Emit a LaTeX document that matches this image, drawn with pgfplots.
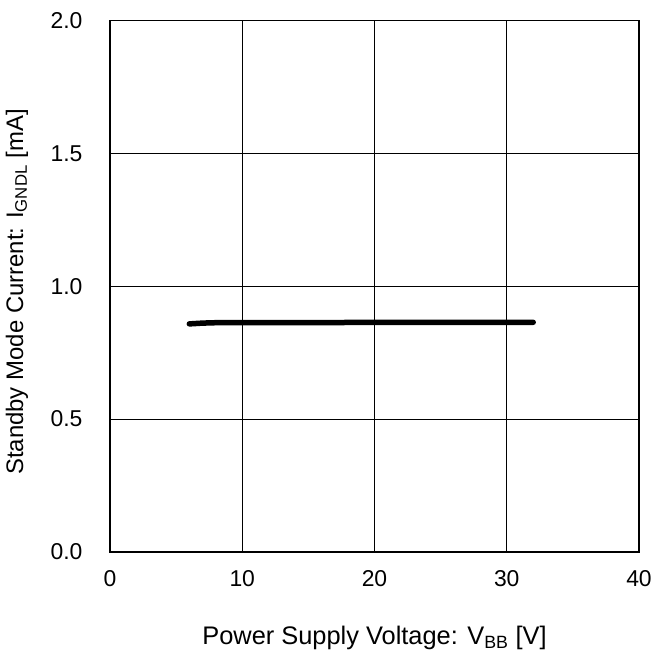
\documentclass[border=0pt]{standalone}
\usepackage{pgfplots}
\pgfplotsset{compat=1.18}
\usepackage{fontspec}
\setmainfont{Liberation Sans}

\begin{document}
\begin{tikzpicture}[x=1bp,y=1bp]
\begin{axis}[
    scale only axis,
    width=529bp, height=531bp,
    xmin=0, xmax=40, ymin=0, ymax=2,
    xtick={0,10,20,30,40},
    ytick={0,0.5,1,1.5,2},
    major tick length=0pt,
    grid=major,
    major grid style={black, line width=0.8bp},
    axis line style={black, line width=1.6bp},
    tick label style={font=\fontsize{23}{27}\selectfont},
    yticklabel style={/pgf/number format/fixed, /pgf/number format/fixed zerofill, /pgf/number format/precision=1},
    /pgf/number format/assume math mode=true,
    xticklabel style={yshift=-15bp},
    yticklabel style={xshift=-24bp},
    xlabel={Power Supply Voltage: V\textsubscript{BB} [V]},
    ylabel={Standby Mode Current: I\textsubscript{GNDL} [mA]},
    xlabel style={font=\fontsize{25.5}{30}\selectfont, at={(axis description cs:0.5,-0.162)}, anchor=center},
    ylabel style={font=\fontsize{24}{28}\selectfont, at={(axis description cs:-0.176,0.489)}, anchor=center},
]
\addplot[black, line width=5.5bp, line cap=round] coordinates {
    (6,0.858) (7,0.861) (8,0.8625) (10,0.863) (15,0.863) (20,0.8635) (25,0.864) (30,0.864) (32,0.864)
};
\end{axis}
\pgfresetboundingbox
\path[use as bounding box] (-110bp,-102.3bp) rectangle (544bp,551.7bp);
\end{tikzpicture}
\end{document}
